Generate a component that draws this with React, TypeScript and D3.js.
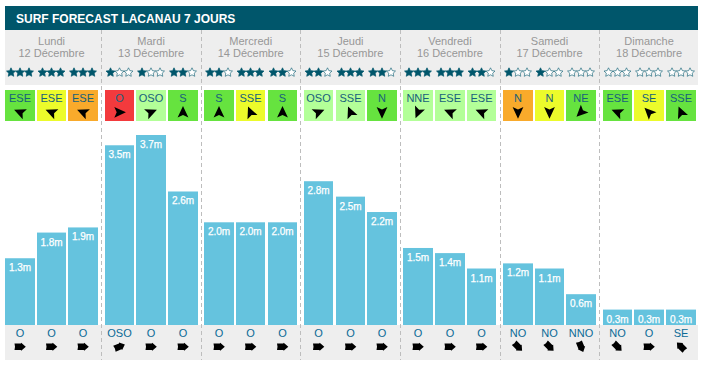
import React from "react";
import * as d3 from "d3";

const title = "SURF FORECAST LACANAU 7 JOURS";
const dayNames = ["Lundi", "Mardi", "Mercredi", "Jeudi", "Vendredi", "Samedi", "Dimanche"];
const dates = ["12 Décembre", "13 Décembre", "14 Décembre", "15 Décembre", "16 Décembre", "17 Décembre", "18 Décembre"];
const stars = [[3, 3, 3], [1, 1, 2], [2, 3, 2], [2, 3, 2], [3, 3, 2], [1, 1, 0], [0, 0, 0]];
const windLabels = [
  ["ESE", "ESE", "ESE"], ["O", "OSO", "S"], ["S", "SSE", "S"], ["OSO", "SSE", "N"],
  ["NNE", "ESE", "ESE"], ["N", "N", "NE"], ["ESE", "SE", "SSE"],
];
const windQuality = [
  ["g", "y", "o"], ["r", "l", "g"], ["g", "y", "g"], ["l", "l", "g"],
  ["l", "l", "l"], ["o", "y", "g"], ["g", "y", "g"],
];
const heights = [
  [1.3, 1.8, 1.9], [3.5, 3.7, 2.6], [2.0, 2.0, 2.0], [2.8, 2.5, 2.2],
  [1.5, 1.4, 1.1], [1.2, 1.1, 0.6], [0.3, 0.3, 0.3],
];
const swellLabels = [
  ["O", "O", "O"], ["OSO", "O", "O"], ["O", "O", "O"], ["O", "O", "O"],
  ["O", "O", "O"], ["NO", "NO", "NNO"], ["NO", "O", "SE"],
];
const compassFrom: Record<string, number> = {
  N: 0, NNE: 22.5, NE: 45, ESE: 112.5, SE: 135, SSE: 157.5, S: 180, OSO: 247.5, O: 270, NO: 315, NNO: 337.5,
};

const palette: Record<string, string> = {
  g: "#66e33f", y: "#ecfb2b", o: "#f9aa2b", r: "#f33a3d", l: "#b3ff98",
};
const FONT = "'Liberation Sans', Arial, sans-serif";
const NAVY = "#00566b";
const BAR = "#65c3de";
const GREY = "#eeeeee";

const dayX = d3.scaleBand<number>().domain(d3.range(7)).range([5, 702.2]).paddingInner(0).paddingOuter(0);
const DAY_W = 93;
const slot = d3.scaleBand<number>().domain([0, 1, 2]).range([0, DAY_W]).paddingInner(0.068);
const yScale = d3.scaleLinear().domain([0, 3.7]).range([325, 135]);

const starPath = (() => {
  const pts: [number, number][] = [];
  for (let i = 0; i < 10; i++) {
    const r = i % 2 === 0 ? 4.7 : 2.3;
    const a = (i * Math.PI) / 5;
    pts.push([r * Math.sin(a), -r * Math.cos(a)]);
  }
  return d3.line()(pts)! + "Z";
})();

const windArrow = d3.line()([[0, -6.4], [5.4, 5.2], [0, 2.8], [-5.4, 5.2]])! + "Z";
const swellArrow = d3.line()([
  [0, -5.8], [4, -1.2], [3.2, -0.8], [3.2, 5.5], [0, 5], [-3.2, 5.5], [-3.2, -0.8], [-4, -1.2],
])! + "Z";

function cellX(day: number, i: number) {
  const x0 = dayX(day)!;
  const l = Math.round(x0 + slot(i)!);
  const r = Math.round(x0 + slot(i)! + slot.bandwidth());
  return { l, r, w: r - l, c: (l + r) / 2 };
}
const heading = (label: string) => compassFrom[label] + 180;

export default function App() {
  return (
    <svg width={707} height={367} style={{ position: "absolute", left: 0, top: 0, background: "#fff" }} fontFamily={FONT}>
      <rect x={5} y={6} width={693} height={24} fill={NAVY} />
      <text x={16} y={22.5} fill="#fff" fontSize={12} fontWeight="bold">{title}</text>
      <rect x={5} y={30} width={693} height={55} fill={GREY} />
      <rect x={5} y={325} width={693} height={35} fill={GREY} />
      {d3.range(1, 7).map((d) => {
        const x = Math.round(dayX(d)! - 3.5) + 0.5;
        return <line key={d} x1={x} x2={x} y1={30} y2={360} stroke="#bdbdbd" strokeDasharray="4 3" />;
      })}
      {dayNames.map((name, d) => {
        const cx = dayX(d)! + DAY_W / 2;
        return (
          <g key={name}>
            <text x={cx} y={45} textAnchor="middle" fontSize={11} fill="#979797">{name}</text>
            <text x={cx} y={57} textAnchor="middle" fontSize={11} fill="#979797">{dates[d]}</text>
            {[0, 1, 2].map((i) => {
              const c = cellX(d, i);
              const h = yScale(0) - yScale(heights[d][i]);
              const top = yScale(heights[d][i]);
              return (
                <g key={i}>
                  {[0, 1, 2].map((s) => (
                    <path
                      key={s}
                      d={starPath}
                      transform={`translate(${c.c + (s - 1) * 9},72.5)`}
                      fill={s < stars[d][i] ? NAVY : "#fff"}
                      stroke={NAVY}
                      strokeWidth={s < stars[d][i] ? 0.7 : 0.6}
                    />
                  ))}
                  <rect x={c.l} y={90} width={c.w} height={31} fill={palette[windQuality[d][i]]} />
                  <text x={c.c} y={101.7} textAnchor="middle" fontSize={11} fill="#17607c">{windLabels[d][i]}</text>
                  <path d={windArrow} transform={`translate(${c.c},112.3) rotate(${heading(windLabels[d][i])})`} fill="#000" />
                  <rect x={c.l} y={top} width={c.w} height={h} fill={BAR} />
                  <text x={c.c} y={top + 13} textAnchor="middle" fontSize={10} fill="#fff" stroke="#fff" strokeWidth={0.25}>
                    {heights[d][i].toFixed(1)}m
                  </text>
                  <text x={c.c} y={337} textAnchor="middle" fontSize={11} fill="#0b6a96">{swellLabels[d][i]}</text>
                  <path d={swellArrow} transform={`translate(${c.c},346.7) rotate(${heading(swellLabels[d][i])})`} fill="#000" />
                </g>
              );
            })}
          </g>
        );
      })}
    </svg>
  );
}
